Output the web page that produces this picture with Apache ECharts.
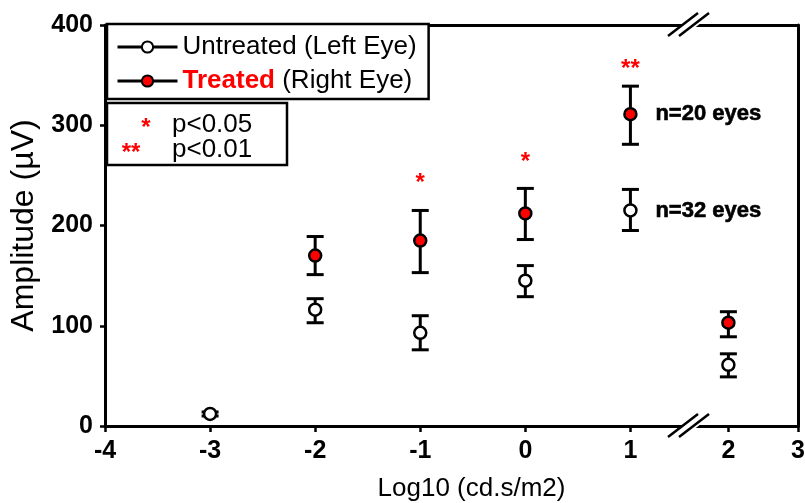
<!DOCTYPE html>
<html>
<head>
<meta charset="UTF-8">
<title>amplitude_log10</title>
<script src="https://cdn.jsdelivr.net/npm/echarts@6.0.0/dist/echarts.min.js"></script>
<style>
  html, body { margin: 0; padding: 0; background: #fff; }
  #main { width: 805px; height: 503px; }
</style>
</head>
<body>
<div id="main"></div>
<script>
// tick labels
var xTicksLeft = [-4, -3, -2, -1, 0, 1];
var xTicksRight = [2, 3];

// untreated (left eye)
var untreatedX = [-3, -2, -1, 0, 1, 2];
var untreatedMean = [12, 116, 93, 145, 215, 61];
var untreatedLow = [10, 103, 76, 129, 195, 49];
var untreatedHigh = [14, 127, 110, 160, 236, 72];

// treated (right eye)
var treatedX = [-2, -1, 0, 1, 2];
var treatedMean = [170, 185, 212, 311, 103];
var treatedLow = [151, 153, 186, 281, 89];
var treatedHigh = [189, 215, 237, 339, 114];

// significance marks
var sigX = [-1, 0, 1];
var sigY = [248, 269, 362];
var sigMark = ['*', '*', '**'];

// n annotations
var nX = [1, 1];
var nY = [311, 215];
var nText = ['n=20 eyes', 'n=32 eyes'];

// p-value key
var keyMark = ['*', '**'];
var keyText = ['p<0.05', 'p<0.01'];

var FONT = 'Liberation Sans, Arial, sans-serif';
var leftMax = 1.548;   // left part ends at the axis break
var rightMin = 1.42;   // right part starts at the axis break

function pts(xs, ys, left) {
  var out = [];
  for (var i = 0; i < xs.length; i++) {
    if ((xs[i] < leftMax) === left) out.push([xs[i], ys[i]]);
  }
  return out;
}
function bars(left) {
  var out = [];
  for (var i = 0; i < untreatedX.length; i++) {
    if ((untreatedX[i] < leftMax) === left) out.push([untreatedX[i], untreatedLow[i], untreatedHigh[i]]);
  }
  for (var j = 0; j < treatedX.length; j++) {
    if ((treatedX[j] < leftMax) === left) out.push([treatedX[j], treatedLow[j], treatedHigh[j]]);
  }
  return out;
}

function renderBar(params, api) {
  var top = api.coord([api.value(0), api.value(2)]);
  var bot = api.coord([api.value(0), api.value(1)]);
  var w = 8.5;
  var st = { stroke: '#000', lineWidth: 3 };
  return {
    type: 'group',
    children: [
      { type: 'line', shape: { x1: top[0], y1: top[1], x2: bot[0], y2: bot[1] }, style: st },
      { type: 'line', shape: { x1: top[0] - w, y1: top[1], x2: top[0] + w, y2: top[1] }, style: st },
      { type: 'line', shape: { x1: bot[0] - w, y1: bot[1], x2: bot[0] + w, y2: bot[1] }, style: st }
    ]
  };
}

var openStyle = { color: '#fff', borderColor: '#000', borderWidth: 2.5 };
var redStyle = { color: '#ff0000', borderColor: '#000', borderWidth: 2.5 };

function pointSeries(name, xs, ys, left, style) {
  return {
    name: name,
    type: 'line',
    xAxisIndex: left ? 0 : 1,
    yAxisIndex: left ? 0 : 1,
    data: pts(xs, ys, left),
    symbol: 'circle',
    symbolSize: 12,
    showAllSymbol: true,
    itemStyle: style,
    lineStyle: { color: '#000', width: 3, opacity: 0 },
    z: 5,
    silent: true
  };
}

var hideAxis = {
  axisTick: { show: false },
  axisLabel: { show: false },
  splitLine: { show: false }
};

var keyMarkX = [146, 131];
var keyGraphics = [{
  type: 'rect', id: 'keybox',
  shape: { x: 107, y: 103, width: 180, height: 62 },
  style: { fill: '#fff', stroke: '#000', lineWidth: 2.5 },
  z: 50
}];
for (var k = 0; k < keyMark.length; k++) {
  keyGraphics.push({
    type: 'text', id: 'km' + k, z: 51,
    style: { x: keyMarkX[k], y: 128 + k * 25, text: keyMark[k], fill: '#ff0000', font: 'bold 24px ' + FONT, textAlign: 'center', textVerticalAlign: 'middle' }
  });
  keyGraphics.push({
    type: 'text', id: 'kt' + k, z: 51,
    style: { x: 172, y: 125 + k * 25, text: keyText[k], fill: '#000', font: '26px ' + FONT, textAlign: 'left', textVerticalAlign: 'middle' }
  });
}

var option = {
  backgroundColor: '#fff',
  animation: false,
  grid: [
    { left: 105, top: 25, width: 583, bottom: 77, outerBoundsMode: 'none', containLabel: false },
    { left: 688, top: 25, right: 7, bottom: 77, outerBoundsMode: 'none', containLabel: false }
  ],
  legend: {
    orient: 'vertical',
    left: 107,
    top: 24,
    padding: [9, 12, 4, 9],
    itemGap: 6,
    itemWidth: 60,
    itemHeight: 14,
    backgroundColor: '#fff',
    borderColor: '#000',
    borderWidth: 2.5,
    borderRadius: 0,
    z: 40,
    data: ['Untreated (Left Eye)', 'Treated (Right Eye)'],
    lineStyle: { color: '#000', width: 3, opacity: 1 },
    textStyle: {
      color: '#000', fontSize: 26, fontFamily: FONT, lineHeight: 28,
      rich: { r: { color: '#ff0000', fontWeight: 'bold', fontSize: 26, fontFamily: FONT, lineHeight: 28 } }
    },
    formatter: function (name) {
      return name === 'Treated (Right Eye)' ? '{r|Treated} (Right Eye)' : name;
    }
  },
  xAxis: [
    {
      type: 'value', gridIndex: 0, min: -4, max: leftMax,
      name: 'Log10 (cd.s/m2)', nameLocation: 'middle', nameGap: 50,
      nameTextStyle: { color: '#000', fontSize: 26, fontFamily: FONT, padding: [0, 0, 0, 150] },
      axisLine: { onZero: false, lineStyle: { color: '#000', width: 3 } },
      axisTick: { show: true, length: 6, lineStyle: { color: '#000', width: 2.5 }, customValues: xTicksLeft },
      axisLabel: { color: '#000', fontSize: 25, fontWeight: 'bold', fontFamily: FONT, margin: 13, customValues: xTicksLeft },
      splitLine: { show: false }
    },
    {
      type: 'value', gridIndex: 1, min: rightMin, max: 3,
      axisLine: { onZero: false, lineStyle: { color: '#000', width: 3 } },
      axisTick: { show: true, length: 6, lineStyle: { color: '#000', width: 2.5 }, customValues: xTicksRight },
      axisLabel: { color: '#000', fontSize: 25, fontWeight: 'bold', fontFamily: FONT, margin: 13, customValues: xTicksRight },
      splitLine: { show: false }
    },
    Object.assign({ type: 'value', gridIndex: 0, position: 'top', min: -4, max: leftMax,
      axisLine: { onZero: false, lineStyle: { color: '#000', width: 3 } } }, hideAxis),
    Object.assign({ type: 'value', gridIndex: 1, position: 'top', min: rightMin, max: 3,
      axisLine: { onZero: false, lineStyle: { color: '#000', width: 3 } } }, hideAxis)
  ],
  yAxis: [
    {
      type: 'value', gridIndex: 0, min: 0, max: 400, interval: 100,
      name: 'Amplitude (\u00b5V)', nameLocation: 'middle', nameGap: 65,
      nameTextStyle: { color: '#000', fontSize: 32, fontFamily: FONT },
      axisLine: { onZero: false, lineStyle: { color: '#000', width: 3 } },
      axisTick: { show: true, length: 5, lineStyle: { color: '#000', width: 2.5 } },
      axisLabel: { color: '#000', fontSize: 25, fontWeight: 'bold', fontFamily: FONT, margin: 12 },
      splitLine: { show: false }
    },
    Object.assign({ type: 'value', gridIndex: 1, position: 'right', min: 0, max: 400,
      axisLine: { show: true, onZero: false, lineStyle: { color: '#000', width: 3 } } }, hideAxis)
  ],
  series: [
    { type: 'custom', xAxisIndex: 0, yAxisIndex: 0, renderItem: renderBar, data: bars(true), encode: { x: 0, y: [1, 2] }, z: 3, silent: true },
    { type: 'custom', xAxisIndex: 1, yAxisIndex: 1, renderItem: renderBar, data: bars(false), encode: { x: 0, y: [1, 2] }, z: 3, silent: true },
    pointSeries('Untreated (Left Eye)', untreatedX, untreatedMean, true, openStyle),
    pointSeries('Untreated (Left Eye)', untreatedX, untreatedMean, false, openStyle),
    pointSeries('Treated (Right Eye)', treatedX, treatedMean, true, redStyle),
    pointSeries('Treated (Right Eye)', treatedX, treatedMean, false, redStyle),
    {
      type: 'scatter', xAxisIndex: 0, yAxisIndex: 0, symbolSize: 0, silent: true,
      itemStyle: { opacity: 1 },
      data: sigX.map(function (x, i) { return [x, sigY[i]]; }),
      label: {
        show: true, position: 'inside', color: '#ff0000', fontSize: 24, fontWeight: 'bold', fontFamily: FONT,
        offset: [0, 6],
        formatter: function (p) { return sigMark[p.dataIndex]; }
      }
    },
    {
      type: 'scatter', xAxisIndex: 0, yAxisIndex: 0, symbolSize: 0, silent: true,
      itemStyle: { opacity: 1 },
      data: nX.map(function (x, i) { return [x, nY[i]]; }),
      label: {
        show: true, position: 'right', distance: 25, color: '#000', fontSize: 22, fontWeight: 'bold',
        fontFamily: FONT, textBorderColor: '#000', textBorderWidth: 0.6,
        formatter: function (p) { return nText[p.dataIndex]; }
      }
    }
  ],
  graphic: keyGraphics
};

var myChart = echarts.init(document.getElementById('main'));
myChart.setOption(option);

// axis break marks "//" on bottom and top border
var bx = myChart.convertToPixel({ xAxisIndex: 0 }, leftMax);
var yBot = myChart.convertToPixel({ yAxisIndex: 0 }, 0);
var yTop = myChart.convertToPixel({ yAxisIndex: 0 }, 400);
var breakGraphics = [];
[yBot, yTop].forEach(function (by, n) {
  breakGraphics.push({
    type: 'polygon', id: 'gap' + n, z: 60,
    shape: { points: [[bx - 15, by + 11], [bx - 4, by + 11], [bx + 26, by - 12], [bx + 5, by - 12]] },
    style: { fill: '#fff' }
  });
  breakGraphics.push({
    type: 'line', id: 'b1' + n, z: 61,
    shape: { x1: bx - 20, y1: by + 11, x2: bx + 10, y2: by - 12 },
    style: { stroke: '#000', lineWidth: 2.5 }
  });
  breakGraphics.push({
    type: 'line', id: 'b2' + n, z: 61,
    shape: { x1: bx - 9, y1: by + 11, x2: bx + 21, y2: by - 12 },
    style: { stroke: '#000', lineWidth: 2.5 }
  });
});
myChart.setOption({ graphic: keyGraphics.concat(breakGraphics) });
</script>
</body>
</html>
